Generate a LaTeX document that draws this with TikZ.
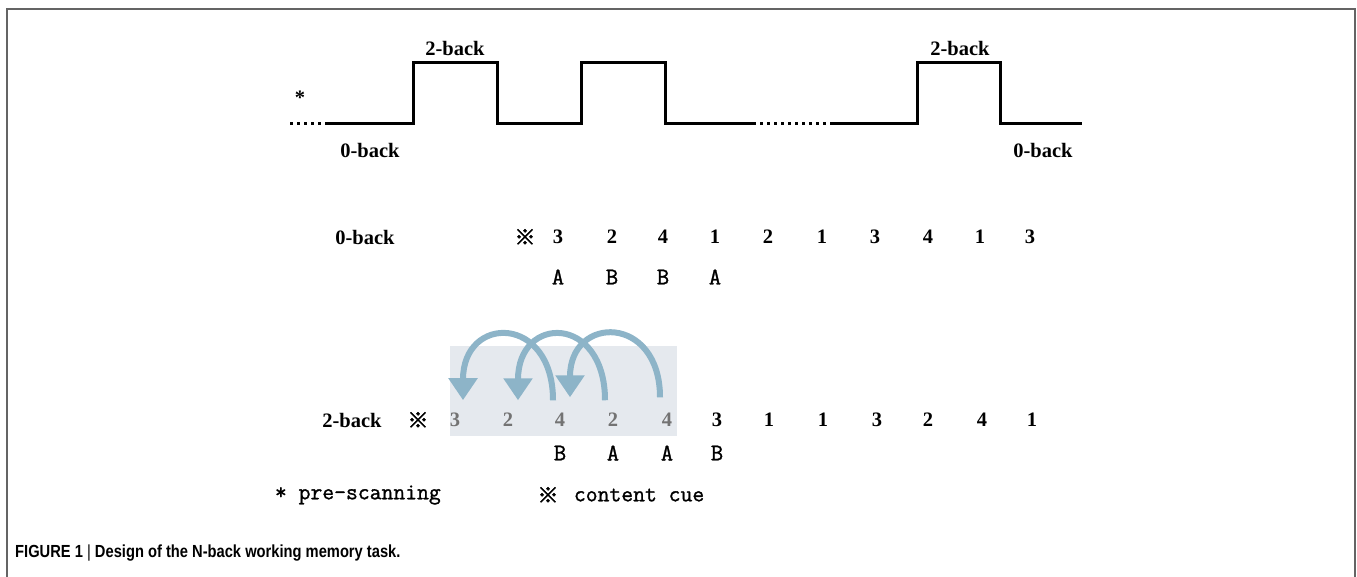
\documentclass[tikz,border=0pt]{standalone}
\usepackage{fontspec}
\setmainfont{Liberation Serif}
\newfontfamily\cjk[FakeBold=2.5]{Noto Sans CJK SC}
\newfontfamily\respfont[FakeBold=1.2]{Latin Modern Mono}
\newfontfamily\capfont[FakeStretch=0.84]{Liberation Sans}
\usetikzlibrary{arrows.meta, positioning}
\definecolor{loopblue}{RGB}{141,180,200}
\definecolor{shadegrey}{RGB}{229,233,238}
\definecolor{framegrey}{RGB}{100,100,100}

\begin{document}
\begin{tikzpicture}[x=1pt,y=-1pt,
  lbl/.style={font=\fontsize{20.5}{20.5}\selectfont\bfseries, inner sep=0.75pt},
  dig/.style={font=\fontsize{20.5}{20.5}\selectfont\bfseries, inner sep=0.75pt},
  dimdig/.style={dig, text=black!55},
  resp/.style={font=\respfont\fontsize{24}{24}\selectfont, inner sep=0.75pt},
  legend/.style={font=\respfont\fontsize{23}{23}\selectfont, inner sep=0.75pt},
  cue/.style={font=\cjk\fontsize{21}{21}\selectfont, inner sep=0.75pt},
  wave/.style={line width=3pt},
  dots/.style={line width=3pt, dash pattern=on 3pt off 4pt},
  loopback/.style={line width=6pt, color=loopblue, -{Triangle[width=28pt,length=22pt]}}]
\useasboundingbox (0,0) rectangle (1357,577);

%Frame
\draw [framegrey, line width=1.5pt] (7,577) -- (7,9) -- (1355,9) -- (1355,577);

%Block wave
\draw [dots] (290,124) -- (328,124);
\draw [wave] (328,124) -- (413,124) -- (413,63) -- (497,63) -- (497,124) -- (581,124) -- (581,63) -- (665,63) -- (665,124) -- (753,124);
\draw [dots] (753,124) -- (830,124);
\draw [wave] (830,124) -- (917,124) -- (917,63) -- (1000,63) -- (1000,124) -- (1082,124);

% Text Node
\node [lbl] (twoA) at (455,48) {2-back};
\node [lbl] (twoB) at (960,48) {2-back};
\node [lbl] (star) at (300,98) {*};
\node [lbl] (zeroA) at (370,150) {0-back};
\node [lbl] (zeroB) at (1043,150) {0-back};

%0-back row
\node [lbl] (rowzero) at (365,237) {0-back};
\node [cue] (cuezero) at (525,237) {※};
\foreach \x/\d [count=\i] in {558/3,612/2,663/4,715/1,768/2,822/1,875/3,928/4,980/1,1030/3}
  \node [dig] (z\i) at (\x,237) {\d};
\foreach \x/\r [count=\i] in {558/A,612/B,663/B,715/A}
  \node [resp] (rz\i) at (\x,277) {\r};

%2-back row
\fill [shadegrey] (450,346) rectangle (677,436);
\node [lbl] (rowtwo) at (352,420) {2-back};
\node [cue] (cuetwo) at (418,420) {※};
\foreach \x/\d [count=\i] in {455/3,508/2,560/4,613/2,667/4}
  \node [dimdig] (t\i) at (\x,420) {\d};
\foreach \x/\d [count=\i from 6] in {717/3,769/1,823/1,877/3,928/2,982/4,1032/1}
  \node [dig] (t\i) at (\x,420) {\d};
\foreach \x/\r [count=\i] in {560/B,613/A,667/A,717/B}
  \node [resp] (rt\i) at (\x,453) {\r};

%Loop-back arrows
\draw [loopback] ([xshift=-7pt,yshift=12pt]t3.north) .. controls +(0,-86) and +(0,-86) .. ([xshift=8pt,yshift=12pt]t1.north);
\draw [loopback] ([xshift=-8pt,yshift=12pt]t4.north) .. controls +(0,-86) and +(0,-86) .. ([xshift=10pt,yshift=12pt]t2.north);
\draw [loopback] ([xshift=-7pt,yshift=15pt]t5.north) .. controls +(0,-83) and +(0,-83) .. ([xshift=10pt,yshift=15pt]t3.north);

%Legend
\node [legend, anchor=west] (prescan) at (274,495) {* pre-scanning};
\node [cue] (cuemark) at (548,495) {※};
\node [legend, anchor=west] (content) at (573,495) {content cue};

%Caption
\node [anchor=west, inner sep=0pt, font=\capfont\fontsize{17.5}{17.5}\selectfont\bfseries] (caption) at (15,553) {FIGURE 1 {\mdseries|} Design of the N-back working memory task.};
\end{tikzpicture}
\end{document}
